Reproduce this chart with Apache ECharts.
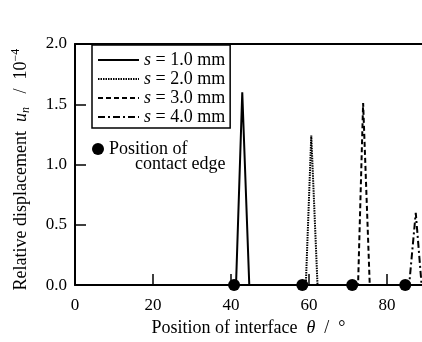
<!DOCTYPE html>
<html>
<head>
<meta charset="utf-8">
<script src="https://cdn.jsdelivr.net/npm/echarts@6/dist/echarts.min.js"></script>
<style>html,body{margin:0;padding:0;background:#fff;}#c{width:422px;height:342px;}</style>
</head>
<body>
<div id="c"></div>
<script>
// Data (theta in degrees, u_n in 1e-4)
const seriesNames = ['s = 1.0 mm', 's = 2.0 mm', 's = 3.0 mm', 's = 4.0 mm'];
const s10 = [[0, 0], [41.3, 0], [42.9, 1.60], [44.7, 0], [90, 0]];
const s20 = [[0, 0], [59.2, 0], [60.6, 1.24], [62.2, 0], [90, 0]];
const s30 = [[0, 0], [72.6, 0], [73.9, 1.51], [75.6, 0], [90, 0]];
const s40 = [[0, 0], [85.7, 0], [87.4, 0.60], [88.9, 0], [90, 0]];
const contactEdges = [[40.8, 0], [58.3, 0], [71.1, 0], [84.7, 0]];
const yTicks = [0, 0.5, 1.0, 1.5, 2.0];
const xTicks = [0, 20, 40, 60, 80];

const FONT = 'Liberation Serif';
const chart = echarts.init(document.getElementById('c'), null, {renderer: 'canvas'});

function lineSeries(name, data, type, w) {
  return {
    name: name, type: 'line', data: data, symbol: 'none', z: 3,
    lineStyle: {color: '#000', width: w, type: type, cap: 'butt'},
    itemStyle: {color: '#000'}
  };
}

const option = {
  animation: false,
  backgroundColor: '#fff',
  grid: {left: 75, right: 0, top: 44, bottom: 53, containLabel: false},
  legend: [{
    data: seriesNames,
    orient: 'vertical',
    left: 92, top: 45,
    padding: [6, 5, 2, 5],
    itemGap: 1,
    itemWidth: 41, itemHeight: 14,
    borderColor: '#000', borderWidth: 1.5,
    backgroundColor: '#fff',
    itemStyle: {color: 'rgba(0,0,0,0)', borderWidth: 0, opacity: 0},
    formatter: function (n) { return '{i|s}' + n.slice(1); },
    textStyle: {
      fontFamily: FONT, fontSize: 18, color: '#000',
      rich: {i: {fontFamily: FONT, fontSize: 18, fontStyle: 'italic', color: '#000'}}
    },
    selectedMode: false
  }, {
    data: ['Position of contact edge'],
    left: 92, top: 140,
    padding: 0,
    itemWidth: 12, itemHeight: 12,
    icon: 'circle',
    itemStyle: {color: '#000', opacity: 1},
    formatter: function () { return 'Position of'; },
    textStyle: {fontFamily: FONT, fontSize: 18, color: '#000'},
    selectedMode: false
  }],
  graphic: [{
    type: 'text', left: 135, top: 155,
    style: {text: 'contact edge', font: '18px "Liberation Serif"', fill: '#000'}
  }],
  xAxis: [{
    type: 'value', min: 0, max: 89, interval: 20,
    axisLine: {show: true, lineStyle: {color: '#000', width: 2}},
    axisTick: {show: true, inside: true, length: 11, lineStyle: {color: '#000', width: 1.5}},
    axisLabel: {
      margin: 12, color: '#000', fontFamily: FONT, fontSize: 17, showMaxLabel: false,
      formatter: function (v) { return xTicks.indexOf(v) >= 0 ? String(v) : ''; }
    },
    splitLine: {show: false},
    name: 'Position of interface  {i|θ}  /  °',
    nameLocation: 'middle', nameGap: 29,
    nameTextStyle: {
      fontFamily: FONT, fontSize: 18, color: '#000',
      rich: {i: {fontFamily: FONT, fontSize: 18, fontStyle: 'italic', color: '#000'}}
    }
  }, {
    type: 'value', min: 0, max: 89, position: 'top',
    axisLine: {show: true, lineStyle: {color: '#000', width: 2}},
    axisTick: {show: false}, axisLabel: {show: false}, splitLine: {show: false}
  }],
  yAxis: {
    type: 'value', min: 0, max: 2, interval: 0.5,
    axisLine: {show: true, lineStyle: {color: '#000', width: 2}},
    axisTick: {show: true, inside: true, length: 11, lineStyle: {color: '#000', width: 1.5}},
    axisLabel: {
      margin: 8, color: '#000', fontFamily: FONT, fontSize: 17,
      formatter: function (v) { return yTicks.indexOf(v) >= 0 ? v.toFixed(1) : ''; }
    },
    splitLine: {show: false},
    name: '{a|Relative displacement  }{i|u}{sub|n}{a|   /  10}{sup|−4}',
    nameLocation: 'middle', nameGap: 43, nameRotate: 90,
    nameTextStyle: {
      fontFamily: FONT, fontSize: 18, color: '#000',
      padding: [0, 10, 0, 0],
      rich: {
        a: {fontFamily: FONT, fontSize: 18, color: '#000', lineHeight: 22},
        i: {fontFamily: FONT, fontSize: 18, fontStyle: 'italic', color: '#000', lineHeight: 22},
        sub: {fontFamily: FONT, fontSize: 12, fontStyle: 'italic', color: '#000', lineHeight: 12, verticalAlign: 'bottom'},
        sup: {fontFamily: FONT, fontSize: 12, color: '#000', lineHeight: 12, verticalAlign: 'top'}
      }
    }
  },
  series: [
    lineSeries(seriesNames[0], s10, 'solid', 2),
    lineSeries(seriesNames[1], s20, [1.5, 1], 2),
    lineSeries(seriesNames[2], s30, [5, 3], 2),
    lineSeries(seriesNames[3], s40, [7, 3, 2, 3], 2),
    {
      name: 'Position of contact edge', type: 'scatter', data: contactEdges,
      symbol: 'circle', symbolSize: 12, z: 5, clip: false,
      itemStyle: {color: '#000', opacity: 1}
    }
  ]
};
chart.setOption(option);
</script>
</body>
</html>
